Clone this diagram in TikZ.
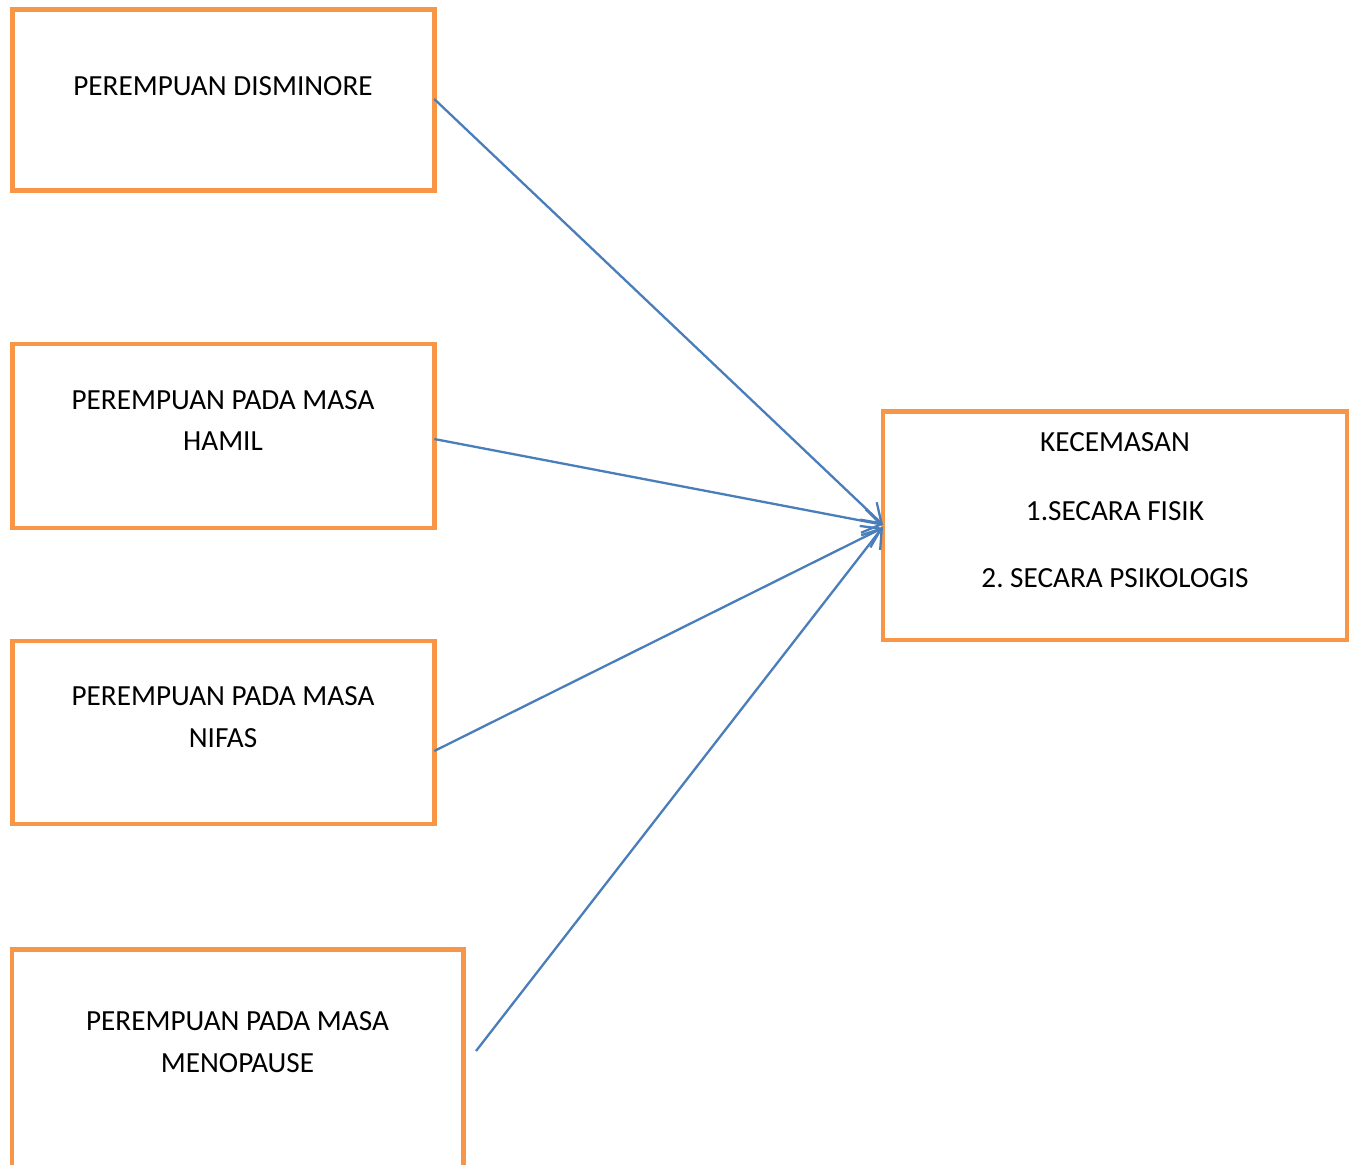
\documentclass[tikz,border=0pt]{standalone}
\usepackage{fontspec}
\setmainfont{Carlito}
\frenchspacing
\usetikzlibrary{arrows.meta}
\definecolor{boxorange}{HTML}{F79646}
\definecolor{arrowblue}{HTML}{4A7EBB}
\begin{document}
\begin{tikzpicture}[x=1pt,y=-1pt,
  box/.style={draw=boxorange, line width=4.5pt, inner sep=0pt, outer sep=0pt, rectangle},
  lbl/.style={align=center, inner sep=0pt, font=\fontsize{29.2}{42}\selectfont, anchor=base},
  conn/.style={draw=arrowblue, line width=2.3pt, -{Straight Barb[length=18pt,width=24pt,line width=2.3pt]}}]
\useasboundingbox (0,0) rectangle (1356,1164);
\fill[white] (0,0) rectangle (1356,1164);
% boxes
\node[box, minimum width=422pt, minimum height=181pt] (b1) at (223.25,100) {};
\node[box, minimum width=422pt, minimum height=184pt] (b2) at (223.25,436) {};
\node[box, minimum width=422pt, minimum height=183pt] (b3) at (223.25,732.5) {};
\node[box, minimum width=451.5pt, minimum height=250.5pt] (b4) at (237.75,1074.75) {};
\node[box, minimum width=464pt, minimum height=228.5pt] (k) at (1115,525.75) {};
% texts
\node[lbl] (t1) at (223,95) {PEREMPUAN DISMINORE};
\node[lbl] (t2a) at (223,409) {PEREMPUAN PADA MASA};
\node[lbl] (t2b) at (223,450) {HAMIL};
\node[lbl] (t3a) at (223,705) {PEREMPUAN PADA MASA};
\node[lbl] (t3b) at (223,747) {NIFAS};
\node[lbl] (t4a) at (237.5,1030) {PEREMPUAN PADA MASA};
\node[lbl] (t4b) at (237.5,1072) {MENOPAUSE};
\node[lbl] (k1) at (1115,451) {KECEMASAN};
\node[lbl] (k2) at (1115,520) {1.SECARA FISIK};
\node[lbl] (k3) at (1115,587) {2. SECARA PSIKOLOGIS};
% connectors
\coordinate (s4) at (476,1051);
\draw[conn] ([yshift=1pt]b1.east) -- ([yshift=1pt]k.west);
\draw[conn] ([yshift=-3pt]b2.east) -- ([yshift=1pt]k.west);
\draw[conn] ([yshift=-18.5pt]b3.east) -- ([yshift=-2pt]k.west);
\draw[conn] (s4) -- ([yshift=-1pt]k.west);
\end{tikzpicture}
\end{document}
